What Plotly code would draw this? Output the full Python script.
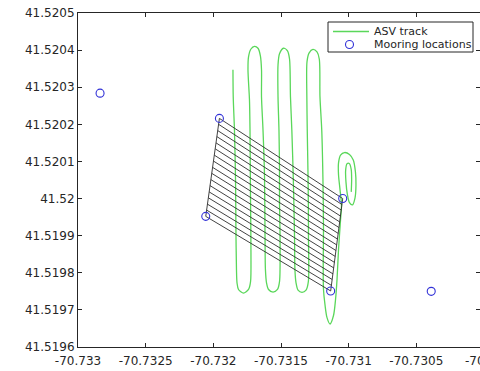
import plotly.graph_objects as go

# ASV survey track (lon, lat)
track_lon = [
    -70.731855, -70.731853, -70.731844, -70.731836, -70.731833, -70.731829, -70.731825,
    -70.731814, -70.731777, -70.731740, -70.731725,
    -70.731722, -70.731725, -70.731727, -70.731729, -70.731733, -70.731744, -70.731740,
    -70.731722, -70.731696, -70.731670, -70.731652,
    -70.731644, -70.731644, -70.731633, -70.731622, -70.731618, -70.731615, -70.731607,
    -70.731592, -70.731559, -70.731526, -70.731511,
    -70.731507, -70.731511, -70.731511, -70.731515, -70.731522, -70.731522, -70.731511,
    -70.731482, -70.731452, -70.731437,
    -70.731430, -70.731420, -70.731409, -70.731400, -70.731397, -70.731389, -70.731374,
    -70.731345, -70.731315, -70.731298,
    -70.731297, -70.731298, -70.731301, -70.731306, -70.731309, -70.731308, -70.731293,
    -70.731264, -70.731234, -70.731217,
    -70.731212, -70.731199, -70.731190, -70.731186, -70.731188, -70.731186, -70.731175,
    -70.731160, -70.731138, -70.731112, -70.731097, -70.731086, -70.731075, -70.731060,
    -70.731053, -70.731064, -70.731075, -70.731075, -70.731060, -70.731031, -70.730994,
    -70.730966, -70.730950, -70.730946, -70.730953, -70.730972, -70.730994, -70.731009,
    -70.731020, -70.731022, -70.731012, -70.730994, -70.730981, -70.730978, -70.730981,
]
track_lat = [
    41.520347, 41.520274, 41.520185, 41.520051, 41.519916, 41.519808, 41.519773,
    41.519755, 41.519745, 41.519755, 41.519776,
    41.519854, 41.519989, 41.520078, 41.520185, 41.520266, 41.520347, 41.520382,
    41.520403, 41.520410, 41.520405, 41.520384,
    41.520347, 41.520274, 41.520185, 41.520064, 41.519897, 41.519808, 41.519773,
    41.519755, 41.519748, 41.519755, 41.519776,
    41.519897, 41.519989, 41.520078, 41.520185, 41.520274, 41.520360, 41.520390,
    41.520405, 41.520398, 41.520376,
    41.520274, 41.520185, 41.520051, 41.519897, 41.519808, 41.519773, 41.519753,
    41.519747, 41.519753, 41.519776,
    41.519897, 41.519989, 41.520078, 41.520185, 41.520274, 41.520368, 41.520392,
    41.520402, 41.520395, 41.520376,
    41.520274, 41.520185, 41.520051, 41.519916, 41.519822, 41.519755, 41.519714,
    41.519679, 41.519662, 41.519685, 41.519728, 41.519782, 41.519862, 41.519943,
    41.519983, 41.520024, 41.520064, 41.520096, 41.520117, 41.520124, 41.520119,
    41.520104, 41.520072, 41.520037, 41.520002, 41.519983, 41.519989, 41.520010,
    41.520045, 41.520078, 41.520094, 41.520094, 41.520078, 41.520051, 41.520018,
]

# Mooring positions
mooring_lon = [-70.732837, -70.731955, -70.732056, -70.731044, -70.731133, -70.730390]
mooring_lat = [41.520284, 41.520216, 41.519952, 41.520000, 41.519751, 41.519750]

# Survey box transects: west-end and east-end points of each line
west_lon = [-70.731955, -70.731961, -70.731967, -70.731974, -70.731980, -70.731986,
            -70.731993, -70.731999, -70.732005, -70.732012, -70.732018, -70.732025,
            -70.732031, -70.732037, -70.732044, -70.732050, -70.732056]
west_lat = [41.520216, 41.520200, 41.520183, 41.520167, 41.520150, 41.520134,
            41.520117, 41.520101, 41.520084, 41.520068, 41.520051, 41.520035,
            41.520018, 41.520002, 41.519985, 41.519969, 41.519952]
east_lon = [-70.731044, -70.731050, -70.731055, -70.731061, -70.731066, -70.731072,
            -70.731077, -70.731083, -70.731088, -70.731094, -70.731099, -70.731105,
            -70.731110, -70.731116, -70.731122, -70.731127, -70.731133]
east_lat = [41.520000, 41.519984, 41.519969, 41.519953, 41.519937, 41.519922,
            41.519906, 41.519891, 41.519875, 41.519860, 41.519844, 41.519828,
            41.519813, 41.519797, 41.519782, 41.519766, 41.519751]

x_ticks = [-70.733, -70.7325, -70.732, -70.7315, -70.731, -70.7305]
x_labels = ["-70.733", "-70.7325", "-70.732", "-70.7315", "-70.731", "-70.7305"]
y_ticks = [41.5196, 41.5197, 41.5198, 41.5199, 41.52, 41.5201, 41.5202, 41.5203, 41.5204, 41.5205]
y_labels = ["41.5196", "41.5197", "41.5198", "41.5199", "41.52", "41.5201", "41.5202",
            "41.5203", "41.5204", "41.5205"]

TRACK = "rgb(90,215,90)"
MOOR = "rgb(50,50,215)"
INK = "#262626"
FONT = "DejaVu Sans"

W, H = 480, 371
L, R, T, B = 78, 0, 13, 24
PW, PH = W - L - R, H - T - B

# Pixel helpers for the hand-drawn legend (paper coordinates)
def px(x):
    return (x - L) / PW

def py(y):
    return (H - B - y) / PH

# Build the transect segments plus the two box sides
grid_x, grid_y = [], []
for a, b, c, d in zip(west_lon, west_lat, east_lon, east_lat):
    grid_x += [a, c, None]
    grid_y += [b, d, None]
grid_x += [west_lon[0], west_lon[-1], None, east_lon[0], east_lon[-1]]
grid_y += [west_lat[0], west_lat[-1], None, east_lat[0], east_lat[-1]]

fig = go.Figure()
fig.add_trace(go.Scatter(x=track_lon, y=track_lat, mode="lines",
                         line=dict(color=TRACK, width=1.3, shape="spline", smoothing=0.8),
                         name="ASV track", showlegend=False))
fig.add_trace(go.Scatter(x=grid_x, y=grid_y, mode="lines",
                         line=dict(color="rgb(45,45,45)", width=0.9),
                         showlegend=False))
fig.add_trace(go.Scatter(x=mooring_lon, y=mooring_lat, mode="markers",
                         marker=dict(symbol="circle-open", size=8, color=MOOR,
                                     line=dict(width=1.1, color=MOOR)),
                         name="Mooring locations", showlegend=False))

x_end = -70.733 + 0.003 * PW / 406.0

axis_common = dict(showgrid=False, zeroline=False, showline=True, linecolor=INK,
                   linewidth=1, ticks="inside", ticklen=4, tickcolor=INK, tickwidth=1,
                   mirror="ticks", tickfont=dict(family=FONT, size=12, color=INK))
fig.update_xaxes(range=[-70.733, x_end], tickvals=x_ticks, ticktext=x_labels,
                 ticklabelstandoff=3, **axis_common)
fig.update_yaxes(range=[41.5196, 41.5205], tickvals=y_ticks, ticktext=y_labels, **axis_common)

shapes = [
    dict(type="rect", xref="paper", yref="paper", x0=px(328), x1=px(473), y0=py(52), y1=py(22),
         line=dict(color=INK, width=1), fillcolor="white", layer="above"),
    dict(type="line", xref="paper", yref="paper", x0=px(333), x1=px(369), y0=py(31.5), y1=py(31.5),
         line=dict(color=TRACK, width=1.3), layer="above"),
    dict(type="circle", xref="paper", yref="paper", x0=px(345.5), x1=px(353.5), y0=py(48.5), y1=py(40.5),
         line=dict(color=MOOR, width=1.1), layer="above"),
]
annotations = [
    dict(text="ASV track", xref="paper", yref="paper", x=px(371.5), y=py(31.5),
         xanchor="left", yanchor="middle", showarrow=False,
         font=dict(family=FONT, size=11, color=INK)),
    dict(text="Mooring locations", xref="paper", yref="paper", x=px(371.5), y=py(44.5),
         xanchor="left", yanchor="middle", showarrow=False,
         font=dict(family=FONT, size=11, color=INK)),
    dict(text="-70.73", xref="paper", yref="paper", x=px(484), y=0,
         xanchor="center", yanchor="top", yshift=-5, showarrow=False,
         font=dict(family=FONT, size=12, color=INK)),
]

fig.update_layout(width=W, height=H, margin=dict(l=L, r=R, t=T, b=B, pad=0),
                  paper_bgcolor="white", plot_bgcolor="white",
                  shapes=shapes, annotations=annotations, showlegend=False)

fig.write_html("out.html")
